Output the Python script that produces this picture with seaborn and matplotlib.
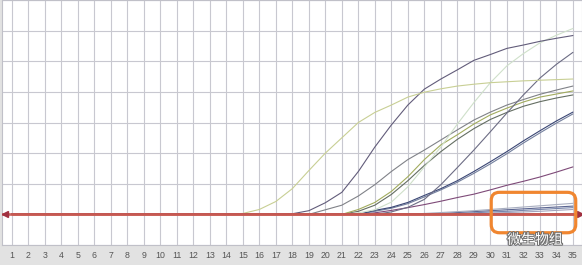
import matplotlib
matplotlib.use("Agg")
import matplotlib.pyplot as plt
import matplotlib.patheffects as pe
from matplotlib.patches import FancyBboxPatch
import numpy as np
import pandas as pd
import seaborn as sns

# ---------------- data ----------------
cycles = list(range(1, 36))
tick_labels = [str(c) for c in cycles]

curve_a = [0.0] * 13 + [0.01, 0.03, 0.16, 0.42, 0.84, 1.43, 2.0, 2.5, 3.0, 3.33, 3.57, 3.83,
                        3.99, 4.1, 4.19, 4.25, 4.3, 4.33, 4.36, 4.38, 4.4, 4.42]
curve_b = [0.0] * 17 + [0.02, 0.12, 0.38, 0.72, 1.4, 2.2, 2.92, 3.57, 4.09, 4.42, 4.72, 5.03,
                        5.22, 5.42, 5.53, 5.65, 5.75, 5.84]
curve_c = [0.0] * 21 + [0.05, 0.15, 0.4, 0.9, 1.55, 2.2, 2.95, 3.65, 4.3, 4.85, 5.25, 5.6,
                        5.85, 6.07]
curve_e = [0.0] * 23 + [0.08, 0.23, 0.49, 0.97, 1.53, 2.1, 2.7, 3.31, 3.9, 4.45, 4.9, 5.29]
curve_f1 = [0.0] * 19 + [0.15, 0.3, 0.6, 0.97, 1.4, 1.79, 2.1, 2.43, 2.76, 3.08, 3.34, 3.57,
                         3.75, 3.92, 4.06, 4.19]
curve_d = [0.0] * 21 + [0.16, 0.39, 0.75, 1.23, 1.79, 2.27, 2.6, 2.95, 3.25, 3.47, 3.67, 3.83,
                        3.93, 4.03]
curve_f3 = [0.0] * 21 + [0.1, 0.3, 0.65, 1.1, 1.6, 2.05, 2.45, 2.8, 3.1, 3.33, 3.53, 3.68,
                         3.8, 3.9]
curve_g1 = [0.0] * 22 + [0.13, 0.23, 0.39, 0.62, 0.84, 1.1, 1.4, 1.72, 2.05, 2.4, 2.73, 3.05, 3.34]
curve_g2 = [0.0] * 22 + [0.1, 0.2, 0.35, 0.57, 0.8, 1.05, 1.34, 1.65, 1.98, 2.33, 2.66, 2.98, 3.28]
curve_h = [0.0] * 22 + [0.05, 0.13, 0.22, 0.32, 0.43, 0.55, 0.66, 0.8, 0.95, 1.08, 1.22, 1.38, 1.55]
curve_k1 = [0.0] * 25 + [0.03, 0.06, 0.09, 0.12, 0.16, 0.2, 0.24, 0.28, 0.32, 0.36]
curve_k2 = [0.0] * 26 + [0.03, 0.06, 0.09, 0.12, 0.15, 0.18, 0.21, 0.24, 0.27]
curve_k3 = [0.0] * 27 + [0.02, 0.05, 0.08, 0.1, 0.13, 0.16, 0.19, 0.22]
curve_k4 = [0.0] * 28 + [0.02, 0.04, 0.06, 0.08, 0.1, 0.13, 0.16]
baseline_red = [0.0] * 35

series = {
    "k4": (curve_k4, "#a4a4bc"),
    "k3": (curve_k3, "#7886ac"),
    "k2": (curve_k2, "#5a6490"),
    "k1": (curve_k1, "#a8aec0"),
    "h": (curve_h, "#7e4a78"),
    "g2": (curve_g2, "#74809e"),
    "g1": (curve_g1, "#3a4674"),
    "f3": (curve_f3, "#646e62"),
    "d": (curve_d, "#a2ac5e"),
    "f1": (curve_f1, "#808288"),
    "e": (curve_e, "#6c6c84"),
    "c": (curve_c, "#cfe0ca"),
    "b": (curve_b, "#625c7a"),
    "a": (curve_a, "#c8cf94"),
}

# ---------------- figure ----------------
sns.set_style("whitegrid")
plt.rcParams["font.family"] = ["Liberation Sans", "DejaVu Sans"]

fig = plt.figure(figsize=(5.82, 2.65), dpi=100)
fig.patch.set_facecolor("#e2e2e2")
ax = fig.add_axes([0.004, 20 / 265, 0.996, 245 / 265])
ax.set_facecolor("white")

for name, (vals, col) in series.items():
    df = pd.DataFrame({"cycle": cycles, "value": vals})
    sns.lineplot(data=df, x="cycle", y="value", ax=ax, color=col, linewidth=0.8,
                 estimator=None, sort=False, zorder=3)

# thick reddish baseline (negative / flat wells)
dfb = pd.DataFrame({"cycle": cycles, "value": baseline_red})
sns.lineplot(data=dfb, x="cycle", y="value", ax=ax, color="#6a2e62", linewidth=1.2,
             estimator=None, zorder=4)
sns.lineplot(data=dfb, x="cycle", y="value", ax=ax, color="#c85a52", linewidth=2.0,
             alpha=0.85, estimator=None, zorder=5)

xlim = (0.43, 35.55)
ylim = (-0.97, 6.98)
ax.set_xlim(*xlim)
ax.set_ylim(*ylim)

# baseline extends across whole plot with end markers
ax.plot([xlim[0], xlim[1]], [0, 0], color="#c85a52", lw=2.0, alpha=0.85, zorder=5)
ax.plot([xlim[0] + 0.15], [0], marker="<", color="#a03040", ms=4, zorder=6, clip_on=False)
ax.plot([xlim[1] - 0.1], [0], marker=">", color="#a03040", ms=4, zorder=6, clip_on=False)

ax.set_xticks(cycles)
ax.set_xticklabels(tick_labels, fontsize=6.3, color="#555555")
ax.set_yticks(range(-1, 8))
ax.set_yticklabels([])
ax.tick_params(axis="x", length=0, pad=4.5)
ax.tick_params(axis="y", length=0)
ax.grid(True, color="#c8c8d0", linewidth=0.8)
ax.set_xlabel("")
ax.set_ylabel("")
for s in ax.spines.values():
    s.set_color("#c0c0c8")
    s.set_linewidth(0.8)

# orange hand-drawn highlight box
box_x0, box_x1 = 30.05, 35.17
box_y0, box_y1 = -0.6, 0.72
px_x = 16.55
px_y = 30.8
box = FancyBboxPatch((box_x0, box_y0), box_x1 - box_x0, box_y1 - box_y0,
                     boxstyle="round,pad=0,rounding_size=0.5",
                     mutation_aspect=px_x / px_y,
                     fill=False, edgecolor="#f08630", linewidth=2.3, zorder=7,
                     clip_on=False)
ax.add_patch(box)

# watermark text
fig.text(0.919, 0.095, "微生物组", fontsize=10, color="white",
         family=["Noto Sans CJK SC", "DejaVu Sans"], ha="center", va="center",
         path_effects=[pe.withStroke(linewidth=1.5, foreground="#707070")], zorder=10)

fig.savefig("out.png", dpi=100, facecolor=fig.get_facecolor())
